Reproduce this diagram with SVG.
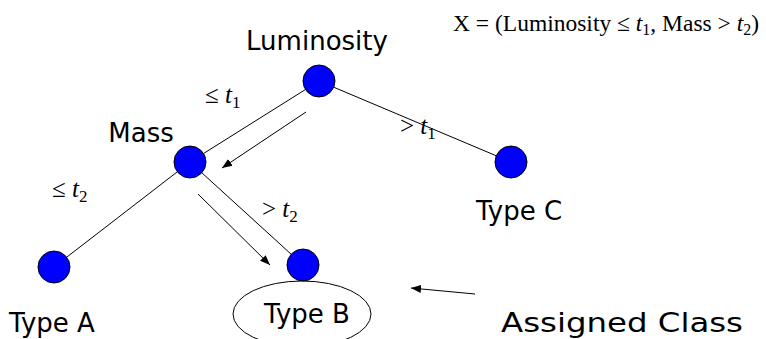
<svg xmlns="http://www.w3.org/2000/svg" width="766" height="339" viewBox="0 0 766 339">
<style>
.n{fill:#0000ff;stroke:#000;stroke-width:1}
.e{stroke:#000;stroke-width:1;fill:none}
.lab{font-family:"DejaVu Sans",Verdana,sans-serif;font-size:26px;fill:#000}
.m{font-family:"Liberation Serif","Times New Roman",serif;font-size:25px;fill:#000}
.i{font-style:italic}
.s{font-size:17px}
.f{font-family:"Liberation Serif","Times New Roman",serif;font-size:23.5px;fill:#000}
.fs{font-size:16px}
</style>
<defs>
<marker id="ah" viewBox="0 0 10 10" refX="10" refY="5" markerWidth="10" markerHeight="10" markerUnits="userSpaceOnUse" orient="auto">
<path d="M0,1 L10,5 L0,9 z" fill="#000"/>
</marker>
</defs>
<g id="connectors">
<line class="e" x1="319" y1="81" x2="190" y2="162"/>
<line class="e" x1="319" y1="81" x2="511" y2="162"/>
<line class="e" x1="190" y1="162" x2="54" y2="267"/>
<line class="e" x1="190" y1="162" x2="303" y2="265"/>
<line class="e" x1="306" y1="112" x2="222" y2="168" marker-end="url(#ah)"/>
<line class="e" x1="198" y1="194" x2="270" y2="265" marker-end="url(#ah)"/>
<line class="e" x1="475" y1="294" x2="411" y2="288" marker-end="url(#ah)"/>
</g>
<g id="edge-labels">
<text class="m" x="205" y="103">≤ <tspan class="i">t</tspan><tspan class="s" dy="5">1</tspan></text>
<text class="m" x="400" y="134">&gt; <tspan class="i">t</tspan><tspan class="s" dy="5">1</tspan></text>
<text class="m" x="52" y="197">≤ <tspan class="i">t</tspan><tspan class="s" dy="5">2</tspan></text>
<text class="m" x="262" y="217">&gt; <tspan class="i">t</tspan><tspan class="s" dy="5">2</tspan></text>
</g>
<g id="luminosity">
<circle class="n" cx="319" cy="81" r="16"/>
<text class="lab" x="317" y="50" text-anchor="middle">Luminosity</text>
</g>
<g id="mass">
<circle class="n" cx="190" cy="162" r="16"/>
<text class="lab" x="141" y="142" text-anchor="middle">Mass</text>
</g>
<g id="typeC">
<circle class="n" cx="511" cy="162" r="16"/>
<text class="lab" x="519" y="220" text-anchor="middle">Type C</text>
</g>
<g id="typeA">
<circle class="n" cx="54" cy="267" r="16"/>
<text class="lab" x="52" y="332" text-anchor="middle">Type A</text>
</g>
<g id="typeB">
<circle class="n" cx="303" cy="265" r="16"/>
<ellipse class="e" cx="302" cy="314" rx="69" ry="33"/>
<text class="lab" x="307" y="323" text-anchor="middle">Type B</text>
</g>
<g id="assigned-class">
<text class="lab" x="501" y="332" textLength="242" lengthAdjust="spacingAndGlyphs">Assigned Class</text>
</g>
<g id="formula">
<text class="f" x="453" y="31">X = (Luminosity ≤ <tspan class="i">t</tspan><tspan class="fs" dy="4">1</tspan><tspan dy="-4">, Mass &gt; </tspan><tspan class="i">t</tspan><tspan class="fs" dy="4">2</tspan><tspan dy="-4">)</tspan></text>
</g>
</svg>
